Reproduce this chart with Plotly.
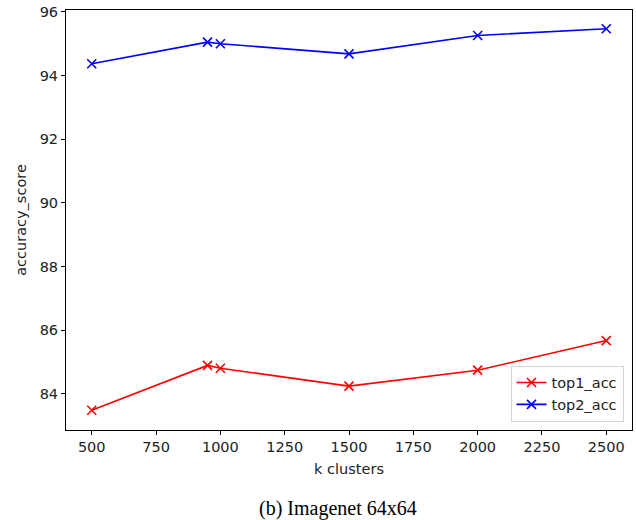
import plotly.graph_objects as go

k_clusters = [500, 950, 1000, 1500, 2000, 2500]
top1_acc = [83.48, 84.89, 84.80, 84.24, 84.74, 85.67]
top2_acc = [94.37, 95.05, 95.00, 94.68, 95.26, 95.47]
x_ticks = [500, 750, 1000, 1250, 1500, 1750, 2000, 2250, 2500]
y_ticks = [84, 86, 88, 90, 92, 94, 96]

fig = go.Figure()
fig.add_trace(go.Scatter(x=k_clusters, y=top1_acc, name="top1_acc", mode="lines+markers",
                         line=dict(color="red", width=1.6),
                         marker=dict(symbol="x-thin", size=9, line=dict(color="red", width=1.6))))
fig.add_trace(go.Scatter(x=k_clusters, y=top2_acc, name="top2_acc", mode="lines+markers",
                         line=dict(color="blue", width=1.6),
                         marker=dict(symbol="x-thin", size=9, line=dict(color="blue", width=1.6))))

FONT = dict(family="DejaVu Sans", size=14.5, color="#222")
axis_common = dict(showgrid=False, zeroline=False, showline=True, linecolor="black", linewidth=1,
                   mirror=True, ticks="outside", ticklen=4, tickcolor="black",
                   tickfont=FONT, automargin=False, ticklabeloverflow="allow")
fig.update_xaxes(range=[400, 2600], tickvals=x_ticks,
                 title=dict(text="k clusters", font=FONT, standoff=9),
                 **axis_common)
fig.update_yaxes(range=[82.86, 96.06], tickvals=y_ticks,
                 title=dict(text="accuracy_score", font=FONT, standoff=9),
                 **axis_common)

fig.update_layout(
    width=636, height=520,
    margin=dict(l=66, r=4, t=10, b=90, autoexpand=False),
    plot_bgcolor="white", paper_bgcolor="white",
    showlegend=True,
    legend=dict(x=0.985, y=0.02, xanchor="right", yanchor="bottom",
                bgcolor="rgba(255,255,255,0.8)", bordercolor="#d5d5d5", borderwidth=1,
                font=FONT, tracegroupgap=0),
    annotations=[dict(text="(b) Imagenet 64x64", xref="paper", yref="paper", x=0.48, y=-0.186,
                      xanchor="center", yanchor="middle", showarrow=False,
                      font=dict(family="Liberation Serif", size=20, color="black"))],
)

fig.write_html("out.html", config={"displayModeBar": False},
               post_script="document.body.style.margin='0';document.body.style.overflow='hidden';")
